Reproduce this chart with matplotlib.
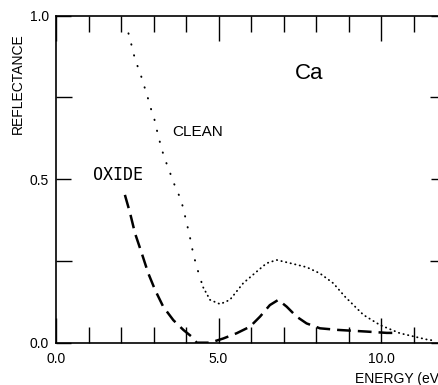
import numpy as np
import matplotlib
matplotlib.use("Agg")
import matplotlib.pyplot as plt
from matplotlib.ticker import MultipleLocator, FixedLocator

# values (Ca, clean and oxidised surface)
clean_x = [2.23, 2.35, 2.45, 2.54, 2.64, 2.75, 2.84, 2.94, 3.05, 3.13, 3.22, 3.33, 3.43,
           3.63, 3.73, 3.84, 3.94, 4.04, 4.14, 4.22, 4.33, 4.43, 4.53,
           4.74, 5.05, 5.35, 5.76, 6.17, 6.48, 6.79, 7.3, 7.71, 8.12, 8.53, 8.9,
           9.46, 9.97, 10.58, 11.4, 11.6]
clean_y = [0.946, 0.90, 0.859, 0.839, 0.809, 0.773, 0.744, 0.709, 0.676, 0.638, 0.605, 0.566, 0.541,
           0.487, 0.462, 0.44, 0.40, 0.358, 0.314, 0.273, 0.232, 0.199, 0.169,
           0.131, 0.118, 0.131, 0.182, 0.217, 0.243, 0.253, 0.241, 0.231, 0.212, 0.182, 0.14,
           0.085, 0.054, 0.029, 0.010, 0.007]

oxide_x = [2.12, 2.28, 2.43, 2.64, 2.84, 3.05, 3.30, 3.61, 3.92, 4.18, 4.33,
           4.74, 5.15, 5.56, 5.97, 6.28, 6.58, 6.84, 7.1, 7.4, 7.71, 8.12, 8.69,
           9.56, 10.18, 10.43]
oxide_y = [0.452, 0.396, 0.335, 0.273, 0.212, 0.161, 0.110, 0.069, 0.039, 0.018, 0.0,
           0.0, 0.013, 0.029, 0.049, 0.080, 0.115, 0.131, 0.110, 0.080, 0.059, 0.044, 0.039,
           0.034, 0.030, 0.030]

xtick_pos = [0, 5, 10]
xtick_labels = ["0.0", "5.0", "10.0"]
ytick_pos = [0, 0.5, 1.0]
ytick_labels = ["0.0", "0.5", "1.0"]

plt.rcParams['font.family'] = ['Liberation Sans', 'DejaVu Sans']

fig = plt.figure(figsize=(4.38, 3.85), dpi=100)
ax = fig.add_axes([56 / 438, 42.3 / 385, 390 / 438, 327 / 385])

# the drawn dots are sparse on the steep fall and dense afterwards
split = clean_x.index(4.53)
ax.plot(clean_x[:split + 1], clean_y[:split + 1], color='black', linewidth=1.4,
        linestyle=(0, (0.2, 5.6)), dash_capstyle='round')
ax.plot(clean_x[split:], clean_y[split:], color='black', linewidth=1.3,
        linestyle=(0, (0.2, 2.4)), dash_capstyle='round')
ax.plot(oxide_x, oxide_y, color='black', linewidth=1.8, linestyle=(0, (5.5, 2.8)))

ax.set_xlim(0, 12)
ax.set_ylim(0, 1.0)

for s in ax.spines.values():
    s.set_linewidth(1.2)

ax.xaxis.set_major_locator(FixedLocator(xtick_pos))
ax.set_xticklabels(xtick_labels)
ax.xaxis.set_minor_locator(MultipleLocator(1))
ax.yaxis.set_major_locator(FixedLocator(ytick_pos))
ax.set_yticklabels(ytick_labels)
ax.yaxis.set_minor_locator(MultipleLocator(0.25))

ax.tick_params(axis='both', which='both', direction='in', top=True, right=True,
               width=1.0, labelsize=10)
ax.tick_params(axis='x', which='major', length=18, pad=7)
ax.tick_params(axis='x', which='minor', length=11.5)
ax.tick_params(axis='y', which='major', length=11, pad=5)
ax.tick_params(axis='y', which='minor', length=11.5)

ax.text(7.35, 0.823, "Ca", fontsize=16, ha='left', va='center')
ax.text(3.57, 0.645, "CLEAN", fontsize=11, ha='left', va='center')
ax.text(1.13, 0.513, "OXIDE", fontsize=12, family='DejaVu Sans Mono', ha='left', va='center')

fig.text(18 / 438, 1 - 84 / 385, "REFLECTANCE", rotation=90, fontsize=10,
         ha='center', va='center')
fig.text(355 / 438, 1 - 379 / 385, "ENERGY (eV)", fontsize=10, ha='left', va='center')

fig.savefig("out.png", dpi=100)
